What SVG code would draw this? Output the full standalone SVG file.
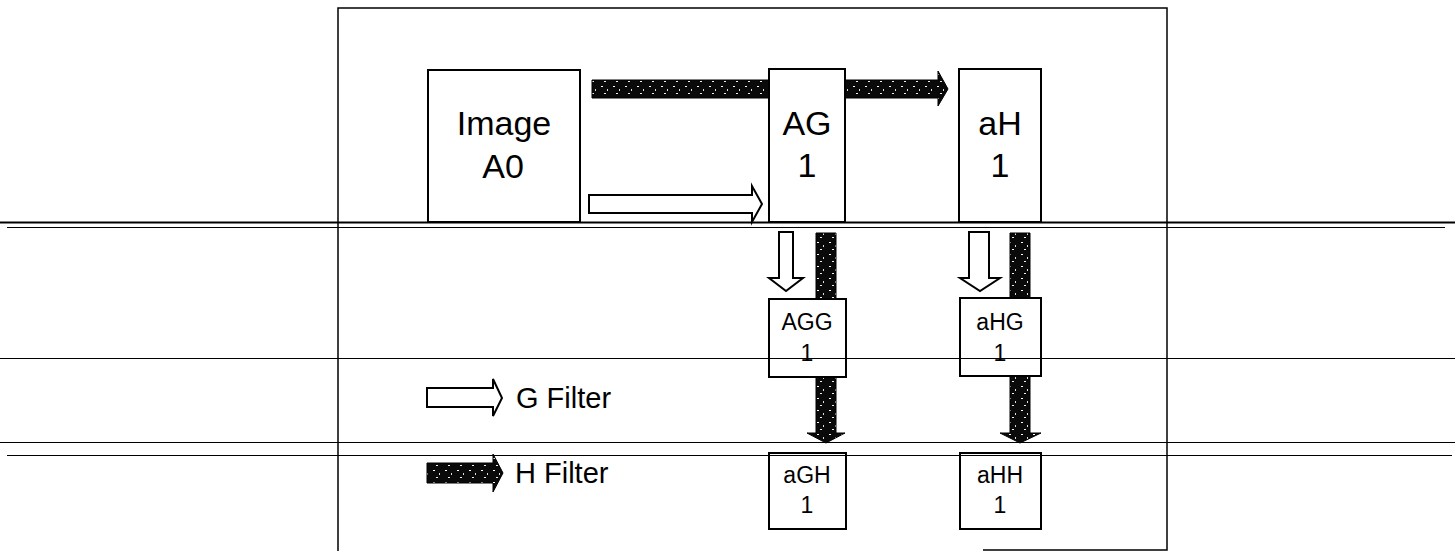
<svg xmlns="http://www.w3.org/2000/svg" width="1455" height="551" viewBox="0 0 1455 551">
<defs>
<pattern id="speck" width="12" height="12" patternUnits="userSpaceOnUse">
<rect width="12" height="12" fill="#0a0a0a"/>
<rect x="1" y="2" width="2" height="1" fill="#fff"/>
<rect x="7" y="5" width="1" height="2" fill="#ddd"/>
<rect x="4" y="9" width="2" height="1" fill="#eee"/>
</pattern>
<style>
.box{fill:#fff;stroke:#000;stroke-width:2}
.wa{fill:#fff;stroke:#000;stroke-width:2;stroke-linejoin:miter}
.ha{fill:url(#speck);stroke:#000;stroke-width:1}
.t{font-family:"Liberation Sans",Arial,sans-serif;fill:#000;text-anchor:middle}
.big{font-size:34px}
.sm{font-size:23px}
.leg{font-family:"Liberation Sans",Arial,sans-serif;font-size:29px;fill:#000}
.ln{stroke:#000;fill:none}
</style>
</defs>
<rect width="1455" height="551" fill="#fff"/>
<g id="connectors">
<path class="ha" d="M592,80 H938 V71 L948,89 L938,106 V98 H592 Z"/>
<path class="wa" d="M589,195 H752 V186 L762,204 L752,222 V213 H589 Z"/>
<path class="wa" d="M779,232 H793 V278 H803 L786,291 L769,278 H779 Z"/>
<path class="wa" d="M969,232 H989 V278 H1000 L980,291 L960,278 H969 Z"/>
<path class="ha" d="M816,233 H836 V433 H845 L826,443 L807,433 H816 Z"/>
<path class="ha" d="M1010,233 H1030 V433 H1041 L1020,443 L1000,433 H1010 Z"/>
</g>
<g id="imageA0">
<rect class="box" x="428" y="70" width="152" height="152"/>
<text class="t big" x="504" y="135">Image</text>
<text class="t big" x="503" y="178">A0</text>
</g>
<g id="AG1">
<rect class="box" x="769" y="69" width="76" height="153"/>
<text class="t big" x="807" y="135">AG</text>
<text class="t big" x="807" y="177">1</text>
</g>
<g id="aH1">
<rect class="box" x="959" y="69" width="82" height="153"/>
<text class="t big" x="1000" y="135">aH</text>
<text class="t big" x="1000" y="177">1</text>
</g>
<g id="AGG1">
<rect class="box" x="769" y="299" width="77" height="78"/>
<text class="t sm" x="807" y="330">AGG</text>
<text class="t sm" x="807" y="361">1</text>
</g>
<g id="aHG1">
<rect class="box" x="960" y="298" width="81" height="78"/>
<text class="t sm" x="1000" y="330">aHG</text>
<text class="t sm" x="1000" y="361">1</text>
</g>
<g id="aGH1">
<rect class="box" x="769" y="453" width="77" height="76"/>
<text class="t sm" x="807" y="483">aGH</text>
<text class="t sm" x="807" y="513">1</text>
</g>
<g id="aHH1">
<rect class="box" x="960" y="453" width="81" height="76"/>
<text class="t sm" x="1000" y="483">aHH</text>
<text class="t sm" x="1000" y="513">1</text>
</g>
<g id="legend">
<path class="wa" d="M427,388 H493 V379 L502,398 L493,416 V407 H427 Z"/>
<text class="leg" x="516" y="408">G Filter</text>
<path class="ha" d="M427,463 H493 V454 L503,473 L493,492 V483 H427 Z"/>
<text class="leg" x="515" y="483">H Filter</text>
</g>
<g id="frame">
<path class="ln" stroke-width="1.5" d="M338,551 V8 H1167 V550 H983"/>
<line class="ln" x1="0" y1="222.5" x2="1455" y2="222.5" stroke-width="2"/>
<line class="ln" x1="7" y1="227.5" x2="1445" y2="227.5" stroke-width="1" stroke="#333"/>
<line class="ln" x1="0" y1="358.5" x2="1455" y2="358.5" stroke-width="1" stroke="#333"/>
<line class="ln" x1="0" y1="442.5" x2="1455" y2="442.5" stroke-width="1"/>
<line class="ln" x1="7" y1="455.5" x2="1452" y2="455.5" stroke-width="1"/>
</g>
</svg>
